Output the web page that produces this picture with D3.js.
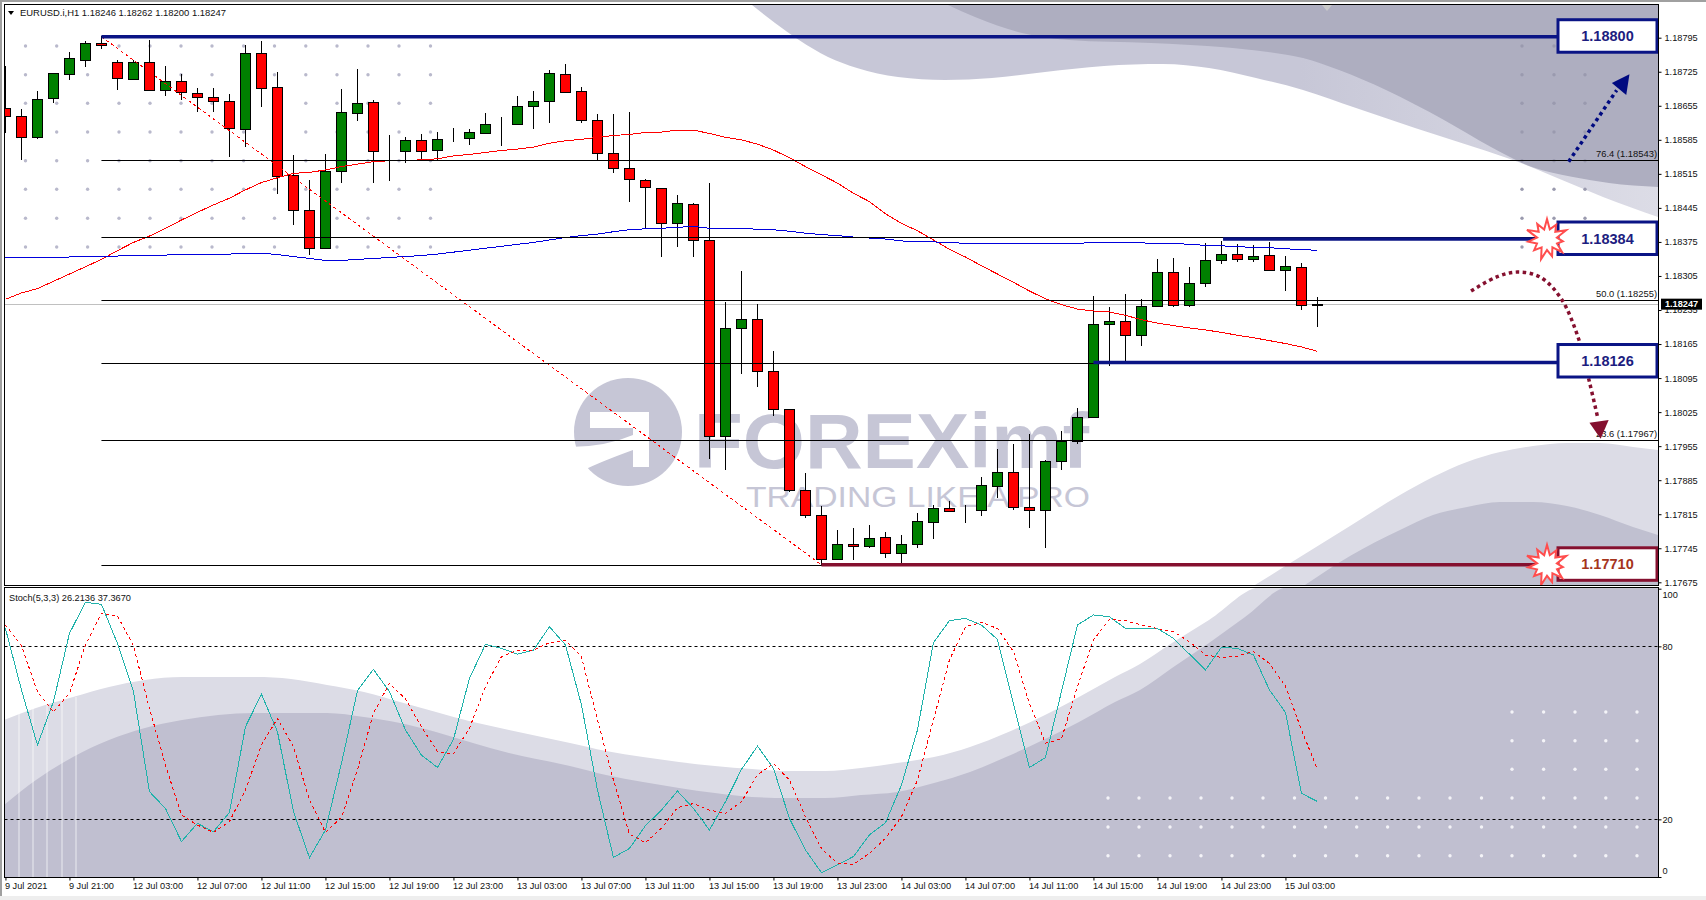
<!DOCTYPE html>
<meta charset="utf-8">
<style>
    body { margin: 0; background: #fff; overflow: hidden; }
    text { font-family: "Liberation Sans", Arial, sans-serif; fill: #111; }
</style>

<!-- Load d3.js -->
<script src="https://d3js.org/d3.v7.min.js"></script>

<div id="chart"></div>
<script>
    // candles, bar by bar
    const opens = [1.18650,1.18635,1.18590,1.18670,1.18721,1.18750,1.18785,1.18746,1.18711,1.18746,1.18688,1.18705,1.18681,1.18674,1.18664,1.18607,1.18763,1.18693,1.18512,1.18440,1.18362,1.18520,1.18641,1.18662,1.18563,1.18561,1.18584,1.18565,1.18588,1.18588,1.18600,1.18617,1.18617,1.18654,1.18664,1.18720,1.18685,1.18625,1.18557,1.18527,1.18502,1.18485,1.18413,1.18453,1.18379,1.17976,1.18199,1.18216,1.18109,1.18031,1.17865,1.17813,1.17722,1.17754,1.17749,1.17768,1.17735,1.17753,1.17798,1.17828,1.17823,1.17823,1.17874,1.17902,1.17830,1.17824,1.17924,1.17965,1.18014,1.18207,1.18212,1.18183,1.18243,1.18313,1.18246,1.18290,1.18337,1.18350,1.18340,1.18348,1.18318,1.18323,1.18246];
    const highs = [1.18737,1.18648,1.18685,1.18722,1.18766,1.18788,1.18799,1.18750,1.18750,1.18790,1.18737,1.18720,1.18691,1.18691,1.18679,1.18780,1.18788,1.18724,1.18554,1.18503,1.18556,1.18690,1.18731,1.18667,1.18595,1.18591,1.18597,1.18601,1.18609,1.18607,1.18640,1.18632,1.18675,1.18685,1.18729,1.18741,1.18694,1.18638,1.18638,1.18643,1.18505,1.18485,1.18472,1.18456,1.18496,1.18251,1.18316,1.18248,1.18151,1.18031,1.17900,1.17831,1.17783,1.17787,1.17793,1.17779,1.17773,1.17818,1.17834,1.17843,1.17834,1.17892,1.17950,1.17960,1.17981,1.17927,1.17987,1.18034,1.18264,1.18241,1.18268,1.18257,1.18340,1.18342,1.18324,1.18372,1.18377,1.18371,1.18369,1.18375,1.18346,1.18332,1.18262];
    const lows = [1.18600,1.18544,1.18587,1.18661,1.18707,1.18735,1.18772,1.18687,1.18707,1.18685,1.18675,1.18667,1.18643,1.18643,1.18550,1.18571,1.18653,1.18474,1.18410,1.18348,1.18362,1.18497,1.18624,1.18497,1.18500,1.18538,1.18542,1.18542,1.18581,1.18575,1.18596,1.18572,1.18617,1.18607,1.18620,1.18681,1.18619,1.18544,1.18516,1.18457,1.18401,1.18345,1.18365,1.18343,1.17929,1.17905,1.18104,1.18076,1.18016,1.17860,1.17807,1.17711,1.17722,1.17721,1.17745,1.17726,1.17713,1.17746,1.17765,1.17819,1.17796,1.17811,1.17849,1.17824,1.17787,1.17746,1.17905,1.17960,1.18013,1.18119,1.18123,1.18160,1.18243,1.18242,1.18242,1.18283,1.18329,1.18333,1.18333,1.18315,1.18275,1.18234,1.18200];
    const closes = [1.18635,1.18590,1.18668,1.18722,1.18753,1.18785,1.18779,1.18713,1.18744,1.18688,1.18705,1.18683,1.18674,1.18664,1.18609,1.18763,1.18692,1.18510,1.18440,1.18362,1.18520,1.18642,1.18660,1.18563,1.18563,1.18584,1.18563,1.18586,1.18588,1.18602,1.18617,1.18617,1.18654,1.18664,1.18722,1.18684,1.18625,1.18557,1.18527,1.18504,1.18487,1.18413,1.18455,1.18379,1.17976,1.18198,1.18216,1.18109,1.18031,1.17865,1.17813,1.17722,1.17754,1.17749,1.17766,1.17735,1.17754,1.17801,1.17828,1.17822,1.17823,1.17875,1.17902,1.17829,1.17824,1.17924,1.17965,1.18015,1.18206,1.18213,1.18183,1.18243,1.18313,1.18246,1.18290,1.18337,1.18350,1.18340,1.18346,1.18318,1.18325,1.18246,1.18247];

    // moving averages
    const maRed = [1.18257,1.18270,1.18279,1.18294,1.18309,1.18324,1.18339,1.18357,1.18374,1.18387,1.18403,1.18420,1.18436,1.18451,1.18465,1.18482,1.18497,1.18507,1.18516,1.18518,1.18523,1.18530,1.18535,1.18540,1.18542,1.18542,1.18544,1.18546,1.18552,1.18555,1.18559,1.18563,1.18566,1.18570,1.18578,1.18583,1.18586,1.18590,1.18594,1.18596,1.18600,1.18601,1.18605,1.18605,1.18598,1.18590,1.18585,1.18576,1.18564,1.18548,1.18530,1.18513,1.18496,1.18475,1.18458,1.18433,1.18413,1.18398,1.18379,1.18360,1.18344,1.18326,1.18309,1.18292,1.18274,1.18258,1.18246,1.18237,1.18233,1.18231,1.18224,1.18215,1.18208,1.18203,1.18198,1.18194,1.18189,1.18183,1.18178,1.18172,1.18166,1.18159,1.18150];
    const maBlue = [1.18342,1.18342,1.18342,1.18342,1.18344,1.18345,1.18345,1.18346,1.18347,1.18347,1.18348,1.18349,1.18349,1.18350,1.18350,1.18352,1.18352,1.18349,1.18345,1.18341,1.18337,1.18337,1.18339,1.18341,1.18343,1.18345,1.18347,1.18350,1.18354,1.18358,1.18362,1.18366,1.18370,1.18374,1.18379,1.18384,1.18388,1.18391,1.18396,1.18400,1.18402,1.18403,1.18405,1.18407,1.18403,1.18403,1.18403,1.18401,1.18400,1.18397,1.18393,1.18390,1.18388,1.18385,1.18383,1.18381,1.18377,1.18376,1.18375,1.18374,1.18372,1.18372,1.18372,1.18372,1.18372,1.18372,1.18372,1.18372,1.18374,1.18374,1.18374,1.18373,1.18372,1.18372,1.18370,1.18368,1.18367,1.18365,1.18364,1.18363,1.18361,1.18359,1.18358];

    // stochastic
    const stochMain = [86.2,64.9,45.8,60.8,84.5,95.3,94.6,81.0,64.3,29.6,23.8,12.3,18.6,15.7,22.4,52.1,63.4,50.4,22.7,6.7,16.3,39.4,64.6,72.0,64.3,51.0,42.3,38.0,47.7,68.9,80.7,79.3,77.3,78.7,86.8,80.5,59.7,30.2,6.8,9.9,17.8,23.2,29.8,23.8,16.3,26.1,37.3,45.4,37.7,20.3,9.4,1.5,4.2,7.1,14.6,18.8,31.9,51.0,81.3,88.9,89.7,87.4,82.4,60.2,38.0,41.4,64.3,87.4,90.9,90.3,86.2,86.2,86.2,82.8,77.3,71.8,79.7,79.3,77.0,64.9,57.1,29.0,26.2];
    const stochSignal = [87.4,80.2,64.3,57.3,63.7,80.5,91.4,90.6,80.2,58.5,38.8,21.5,18.0,15.5,19.2,30.2,45.8,55.0,45.2,26.7,15.5,20.7,37.1,56.8,67.2,61.7,52.1,43.5,42.7,51.6,66.0,76.4,78.7,78.7,81.3,82.0,76.4,54.5,33.6,14.9,11.9,16.9,24.0,25.5,23.2,22.1,26.1,35.4,39.4,33.6,20.9,9.9,4.7,4.4,8.2,13.4,20.9,33.6,54.5,75.3,86.8,88.3,86.2,78.2,60.2,46.4,47.9,66.0,82.2,89.4,88.9,87.4,86.2,85.1,81.6,77.0,76.2,76.6,78.2,74.1,66.2,51.0,37.4];

    // axes
    const priceTicks = [1.18795,1.18725,1.18655,1.18585,1.18515,1.18445,1.18375,1.18305,1.18235,1.18165,1.18095,1.18025,1.17955,1.17885,1.17815,1.17745,1.17675];
    const stochTicks = [0,20,80,100];
    const timeBars = [0,4,8,12,16,20,24,28,32,36,40,44,48,52,56,60,64,68,72,76,80];
    const timeLabels = ["9 Jul 2021","9 Jul 21:00","12 Jul 03:00","12 Jul 07:00","12 Jul 11:00","12 Jul 15:00","12 Jul 19:00","12 Jul 23:00","13 Jul 03:00","13 Jul 07:00","13 Jul 11:00","13 Jul 15:00","13 Jul 19:00","13 Jul 23:00","14 Jul 03:00","14 Jul 07:00","14 Jul 11:00","14 Jul 15:00","14 Jul 19:00","14 Jul 23:00","15 Jul 03:00"];

    // fibo retracement lines and the hand drawn levels
    const fiboPrices = [1.18543,1.18385,1.18255,1.18127,1.17967,1.17711];
    const fiboLabelPrices = [1.18543,1.18255,1.17967];
    const fiboLabels = ["76.4 (1.18543)","50.0 (1.18255)","23.6 (1.17967)"];
    const levelPrices = [1.18797,1.18381,1.18127,1.17711];
    const levelLabels = ["1.18800","1.18384","1.18126","1.17710"];
    const levelStartBars = [6,76.1,68,51];

    // hand drawn arrows as [bar, price]
    const upArrow = [[97.7,1.18540],[100.7,1.18687]];
    const upHead = [[101.5,1.18720],[100.4,1.18702],[101.3,1.18677]];
    const downArrow = [[91.6,1.18274],[93.2,1.18303],[94.5,1.18313],[95.9,1.18303],[97.2,1.18260],[98.3,1.18178],[99.0,1.18087],[99.5,1.18016]];
    const downHead = [[99.7,1.17970],[99.0,1.18003],[100.2,1.18009]];
    const starRadii = [20,10,17,11,21,10,16,11,20,10,18,11,21,10,17,11,19,10,22,11,18,10];

    // watermark art in page pixels, not chart data
    const topLightX = [752,775,799,828,857,898,945,992,1045,1104,1163,1209,1256,1303,1356,1415,1474,1521,1562,1603,1658];
    const topLightY = [5,23,40,57,68,77,80,78,72,66,64,68,78,90,108,128,147,163,180,197,217];
    const topDarkX = [948,975,1022,1069,1151,1221,1268,1303,1339,1386,1444,1491,1532,1573,1609,1658];
    const topDarkY = [5,17,33,40,43,47,52,58,70,90,120,147,167,177,183,187];
    const lowLightX = [1255,1300,1350,1400,1433,1467,1500,1533,1567,1600,1633,1658];
    const lowLightY = [585,557,526,495,477,462,452,446,443,443,447,450];
    const lowDarkX = [1305,1350,1400,1433,1467,1500,1533,1567,1600,1633,1658];
    const lowDarkY = [585,556,530,515,507,502,502,506,515,527,535];
    const subLightX = [4,36,73,109,145,182,218,255,291,327,364,400,436,473,509,570,606,643,679,715,752,788,825,861,897,934,970,1006,1043,1079,1115,1140,1172,1209,1262,1658];
    const subLightY = [720,708,697,687,680,677,677,677,679,685,692,702,712,722,730,743,751,757,762,766,769,771,771,768,763,757,747,733,716,697,677,664,643,620,587,587];
    const subDarkX = [4,36,73,109,145,182,218,255,291,327,364,400,436,473,509,570,606,643,679,715,752,788,825,861,897,934,970,1006,1043,1079,1115,1140,1172,1209,1245,1289,1658];
    const subDarkY = [805,780,757,740,728,720,715,713,713,713,717,723,732,743,753,766,775,782,788,793,797,798,798,795,792,783,772,757,740,722,702,690,668,643,617,587,587];
    const dotColsLeft = [25.5,56.7,87.6,119,150,181,212,243.6,274.5,305.8,337,368,399,430.5];
    const dotColsRight = [1522,1554,1585];
    const dotRows = [46,74.7,103.3,132,160.7,189.3,218.3,247];
    const subDotCols = [1108,1139,1170,1201,1232,1263,1294.5,1325.5,1356.7,1387.6,1419,1450,1481.5,1512,1543.6,1575,1605.8,1637];
    const subDotRows = [798,827,855.7];
    const subDotColsUpper = [1512,1543.6,1575,1605.8,1637];
    const subDotRowsUpper = [712,740.7,769.3];
    const stripeX = [19,33,47,62,76];

    // panel dimensions
    const left = 4.5, right = 1658.5, mainTop = 4.5, mainBottom = 585.5, subTop = 587.5, subBottom = 877.5;

    const svg = d3.select("#chart")
        .append("svg")
        .attr("width", 1706)
        .attr("height", 900)
        .style("display", "block");

    // window edges
    svg.append("rect").attr("width", 1706).attr("height", 2).attr("fill", "#a0a0a0");
    svg.append("rect").attr("width", 2).attr("height", 900).attr("fill", "#a0a0a0");
    svg.append("rect").attr("y", 896).attr("width", 1706).attr("height", 4).attr("fill", "#eeeeee");

    const defs = svg.append("defs");
    defs.append("clipPath").attr("id", "clipMain").append("rect")
        .attr("x", left).attr("y", mainTop).attr("width", right - left).attr("height", mainBottom - mainTop);
    defs.append("clipPath").attr("id", "clipSub").append("rect")
        .attr("x", left).attr("y", subTop).attr("width", right - left).attr("height", subBottom - subTop);
    const fade = defs.append("linearGradient").attr("id", "fade").attr("gradientUnits", "userSpaceOnUse")
        .attr("x1", 1300).attr("x2", 1658).attr("y1", 0).attr("y2", 0);
    fade.append("stop").attr("offset", 0).attr("stop-color", "#c7c7d7");
    fade.append("stop").attr("offset", 1).attr("stop-color", "#dcdce6");

    // scales
    const x = d3.scaleLinear().domain([0, 82]).range([5.45, 1317.45]);
    const y = d3.scaleLinear().domain([1.17675, 1.18795]).range([582.3, 37.7]);
    const yStoch = d3.scaleLinear().domain([0, 100]).range([877, 588.7]);
    const snap = v => Math.round(v) + 0.5;

    const main = svg.append("g").attr("clip-path", "url(#clipMain)");
    const sub = svg.append("g").attr("clip-path", "url(#clipSub)");

    // background waves
    function wave(parent, xs, ys, base, color) {
        const area = d3.area()
            .x(i => xs[i])
            .y0(base)
            .y1(i => ys[i])
            .curve(d3.curveMonotoneX);
        parent.append("path").attr("d", area(d3.range(xs.length))).attr("fill", color);
    }
    wave(main, topLightX, topLightY, mainTop, "url(#fade)");
    wave(main, topDarkX, topDarkY, mainTop, "#aeaec0");
    wave(main, lowLightX, lowLightY, mainBottom, "#dcdce6");
    wave(main, lowDarkX, lowDarkY, mainBottom, "#c0c0d0");
    wave(sub, subLightX, subLightY, subBottom, "#dcdce6");
    wave(sub, subDarkX, subDarkY, subBottom, "#c0bfd0");

    // dot grids
    function dots(parent, cols, rows, color, r) {
        parent.append("g").selectAll("circle")
            .data(d3.cross(cols, rows))
            .join("circle")
            .attr("cx", d => d[0])
            .attr("cy", d => d[1])
            .attr("r", r)
            .attr("fill", color);
    }
    dots(main, dotColsLeft, dotRows, "#b9b9cc", 1.7);
    dots(main, dotColsRight, dotRows, "#9a9aae", 1.7);
    dots(sub, subDotCols, subDotRows, "#f4f4f8", 1.7);
    dots(sub, subDotColsUpper, subDotRowsUpper, "#f4f4f8", 1.7);

    sub.append("g").selectAll("line")
        .data(stripeX)
        .join("line")
        .attr("x1", d => d).attr("x2", d => d)
        .attr("y1", 697).attr("y2", subBottom)
        .attr("stroke", "#ffffff").attr("stroke-width", 1.5).attr("opacity", 0.45);

    // watermark logo
    const logo = main.append("g");
    logo.append("circle").attr("cx", 628).attr("cy", 432).attr("r", 54).attr("fill", "#c6c6d6");
    logo.append("path").attr("d", "M590,412H649V467H633V428H590Z").attr("fill", "#fff");
    logo.append("path").attr("d", "M570,447Q605,447 633,435V450Q600,462 584,470Q572,460 570,447Z").attr("fill", "#fff");
    logo.append("text").attr("x", 694).attr("y", 468)
        .attr("textLength", 395).attr("lengthAdjust", "spacingAndGlyphs")
        .style("font-size", "77px").style("font-weight", "bold").style("fill", "#c6c6d6")
        .text("FOREXimf");
    logo.append("text").attr("x", 746).attr("y", 507)
        .attr("textLength", 344).attr("lengthAdjust", "spacingAndGlyphs")
        .style("font-size", "30px").style("fill", "#c6c6d6")
        .text("TRADING LIKE A PRO");

    // chart shift marker
    main.append("path").attr("d", "M1322,5h10l-5,6Z").attr("fill", "#c8c8c8");

    // bid line
    main.append("line")
        .attr("x1", left).attr("x2", right)
        .attr("y1", snap(y(closes[82]))).attr("y2", snap(y(closes[82])))
        .attr("stroke", "#c0c0c0");

    // candles
    const bars = d3.range(opens.length);
    const candle = main.append("g").attr("shape-rendering", "crispEdges");
    candle.selectAll(".wick")
        .data(bars)
        .join("line")
        .attr("class", "wick")
        .attr("x1", i => snap(x(i))).attr("x2", i => snap(x(i)))
        .attr("y1", i => y(highs[i])).attr("y2", i => y(lows[i]))
        .attr("stroke", "#000");
    candle.selectAll(".body")
        .data(bars)
        .join("rect")
        .attr("class", "body")
        .attr("x", i => snap(x(i)) - 5)
        .attr("y", i => snap(y(Math.max(opens[i], closes[i]))))
        .attr("width", 10)
        .attr("height", i => Math.max(0, snap(y(Math.min(opens[i], closes[i]))) - snap(y(Math.max(opens[i], closes[i])))))
        .attr("fill", i => closes[i] > opens[i] ? "#008000" : "#ff0000")
        .attr("stroke", "#000");

    // moving averages
    const maLine = d3.line().x((d, i) => x(i)).y(d => y(d));
    main.append("path").attr("d", maLine(maRed)).attr("fill", "none").attr("stroke", "#ff0000").attr("shape-rendering", "crispEdges");
    main.append("path").attr("d", maLine(maBlue)).attr("fill", "none").attr("stroke", "#0000dd").attr("shape-rendering", "crispEdges");

    // fibo base line
    main.append("line")
        .attr("x1", x(6)).attr("y1", y(levelPrices[0]))
        .attr("x2", x(51)).attr("y2", y(levelPrices[3]))
        .attr("stroke", "#ff0000")
        .attr("stroke-dasharray", "3,3")
        .attr("shape-rendering", "crispEdges");

    // fibo levels
    main.append("g").selectAll("line")
        .data(fiboPrices)
        .join("line")
        .attr("x1", x(6)).attr("x2", right)
        .attr("y1", d => snap(y(d))).attr("y2", d => snap(y(d)))
        .attr("stroke", "#000");
    main.append("g").selectAll("text")
        .data(fiboLabels)
        .join("text")
        .attr("x", 1657)
        .attr("y", (d, i) => y(fiboLabelPrices[i]) - 3)
        .attr("text-anchor", "end")
        .style("font-size", "9.4px")
        .text(d => d);

    // hand drawn thick levels
    const levelColor = i => i == 3 ? "#85102f" : "#0a1485";
    main.append("g").selectAll("line")
        .data(levelPrices)
        .join("line")
        .attr("x1", (d, i) => x(levelStartBars[i]))
        .attr("x2", 1560)
        .attr("y1", d => y(d)).attr("y2", d => y(d))
        .attr("stroke", (d, i) => levelColor(i))
        .attr("stroke-width", 3.4);

    // arrows
    const pts = d3.line().x(d => x(d[0])).y(d => y(d[1]));
    main.append("path").attr("d", pts(upArrow)).attr("fill", "none")
        .attr("stroke", "#000a80").attr("stroke-width", 3.5).attr("stroke-dasharray", "3.5,3.5");
    main.append("path").attr("d", pts(upHead) + "Z").attr("fill", "#000a80");
    main.append("path").attr("d", pts.curve(d3.curveCatmullRom)(downArrow)).attr("fill", "none")
        .attr("stroke", "#85102f").attr("stroke-width", 3.5).attr("stroke-dasharray", "3.5,3.5");
    pts.curve(d3.curveLinear);
    main.append("path").attr("d", pts(downHead) + "Z").attr("fill", "#85102f");

    // level boxes
    const boxes = main.append("g").selectAll("g")
        .data(levelLabels)
        .join("g")
        .attr("transform", (d, i) => `translate(1558,${y(levelPrices[i]) - (i == 2 ? 18 : 17)})`);
    boxes.append("rect")
        .attr("width", 99)
        .attr("height", 32.5)
        .attr("fill", "#fff")
        .attr("stroke", (d, i) => levelColor(i))
        .attr("stroke-width", 3);
    boxes.append("text")
        .attr("x", 49.5)
        .attr("y", 21.5)
        .attr("text-anchor", "middle")
        .style("font-size", "14.5px")
        .style("font-weight", "bold")
        .style("fill", (d, i) => i == 3 ? "#a5341c" : "#1d1d80")
        .text(d => d);

    // bursts on 1.18384 and 1.17710
    const burst = d3.lineRadial()
        .angle((d, i) => i / starRadii.length * 2 * Math.PI)
        .radius(d => d)
        .curve(d3.curveLinearClosed);
    [levelPrices[1], levelPrices[3]].forEach(p => {
        main.append("path")
            .attr("d", burst(starRadii))
            .attr("transform", `translate(1547,${y(p)})`)
            .attr("fill", "#fff")
            .attr("stroke", "#ff4d4d")
            .attr("stroke-width", 2);
    });

    // stochastic
    sub.append("g").selectAll("line")
        .data([80, 20])
        .join("line")
        .attr("x1", left).attr("x2", right)
        .attr("y1", d => snap(yStoch(d))).attr("y2", d => snap(yStoch(d)))
        .attr("stroke", "#000")
        .attr("stroke-dasharray", "3,3");
    const stochLine = d3.line().x((d, i) => x(i)).y(d => yStoch(d));
    sub.append("path").attr("d", stochLine(stochMain)).attr("fill", "none").attr("stroke", "#20b2aa")
        .attr("shape-rendering", "crispEdges");
    sub.append("path").attr("d", stochLine(stochSignal)).attr("fill", "none")
        .attr("stroke", "#ff0000").attr("stroke-dasharray", "3,3")
        .attr("shape-rendering", "crispEdges");

    // panel frames
    [[mainTop, mainBottom], [subTop, subBottom]].forEach(p => {
        svg.append("rect")
            .attr("x", left).attr("y", p[0])
            .attr("width", right - left).attr("height", p[1] - p[0])
            .attr("fill", "none").attr("stroke", "#000");
    });

    // price axis
    const priceAxis = svg.append("g")
        .attr("transform", `translate(${right},0)`)
        .call(d3.axisRight(y).tickValues(priceTicks).tickFormat(d3.format(".5f")).tickSize(3).tickPadding(3));
    priceAxis.select(".domain").remove();

    // stochastic axis, 100 and 0 sit inside the panel
    const stochAxis = svg.append("g")
        .attr("transform", `translate(${right},0)`)
        .call(d3.axisRight(yStoch).tickValues(stochTicks).tickFormat(d3.format("d")).tickSize(3).tickPadding(1));
    stochAxis.select(".domain").remove();
    stochAxis.selectAll("text").attr("dy", d => d == 100 ? "1em" : d == 0 ? "-0.4em" : "0.32em");

    // time axis
    const timeAxis = svg.append("g")
        .attr("transform", `translate(0,${subBottom})`)
        .call(d3.axisBottom(x).tickValues(timeBars).tickFormat((d, i) => timeLabels[i]).tickSize(3).tickPadding(2));
    timeAxis.select(".domain").remove();
    timeAxis.selectAll("text").attr("text-anchor", "start").attr("dx", "-1px");

    [priceAxis, stochAxis, timeAxis].forEach(g => {
        g.attr("font-family", null).attr("font-size", null);
        g.selectAll("text").style("font-size", "9.2px").style("fill", "#111");
        g.selectAll("line").attr("stroke", "#000");
    });

    // current price tag
    svg.append("rect")
        .attr("x", 1661).attr("y", y(closes[82]) - 5.5)
        .attr("width", 41).attr("height", 11)
        .attr("fill", "#000");
    svg.append("text")
        .attr("x", 1681.5).attr("y", y(closes[82]) + 3.3)
        .attr("text-anchor", "middle")
        .style("font-size", "9.2px").style("font-weight", "bold").style("fill", "#fff")
        .text(d3.format(".5f")(closes[82]));

    // headers
    svg.append("path").attr("d", "M8,11h6l-3,4Z").attr("fill", "#000");
    svg.append("text")
        .attr("x", 20).attr("y", 16)
        .attr("textLength", 206).attr("lengthAdjust", "spacingAndGlyphs")
        .style("font-size", "9.8px")
        .text("EURUSD.i,H1  1.18246 1.18262 1.18200 1.18247");
    svg.append("text")
        .attr("x", 9).attr("y", 600.5)
        .attr("textLength", 122).attr("lengthAdjust", "spacingAndGlyphs")
        .style("font-size", "9.8px")
        .text("Stoch(5,3,3) 26.2136 37.3670");
</script>
